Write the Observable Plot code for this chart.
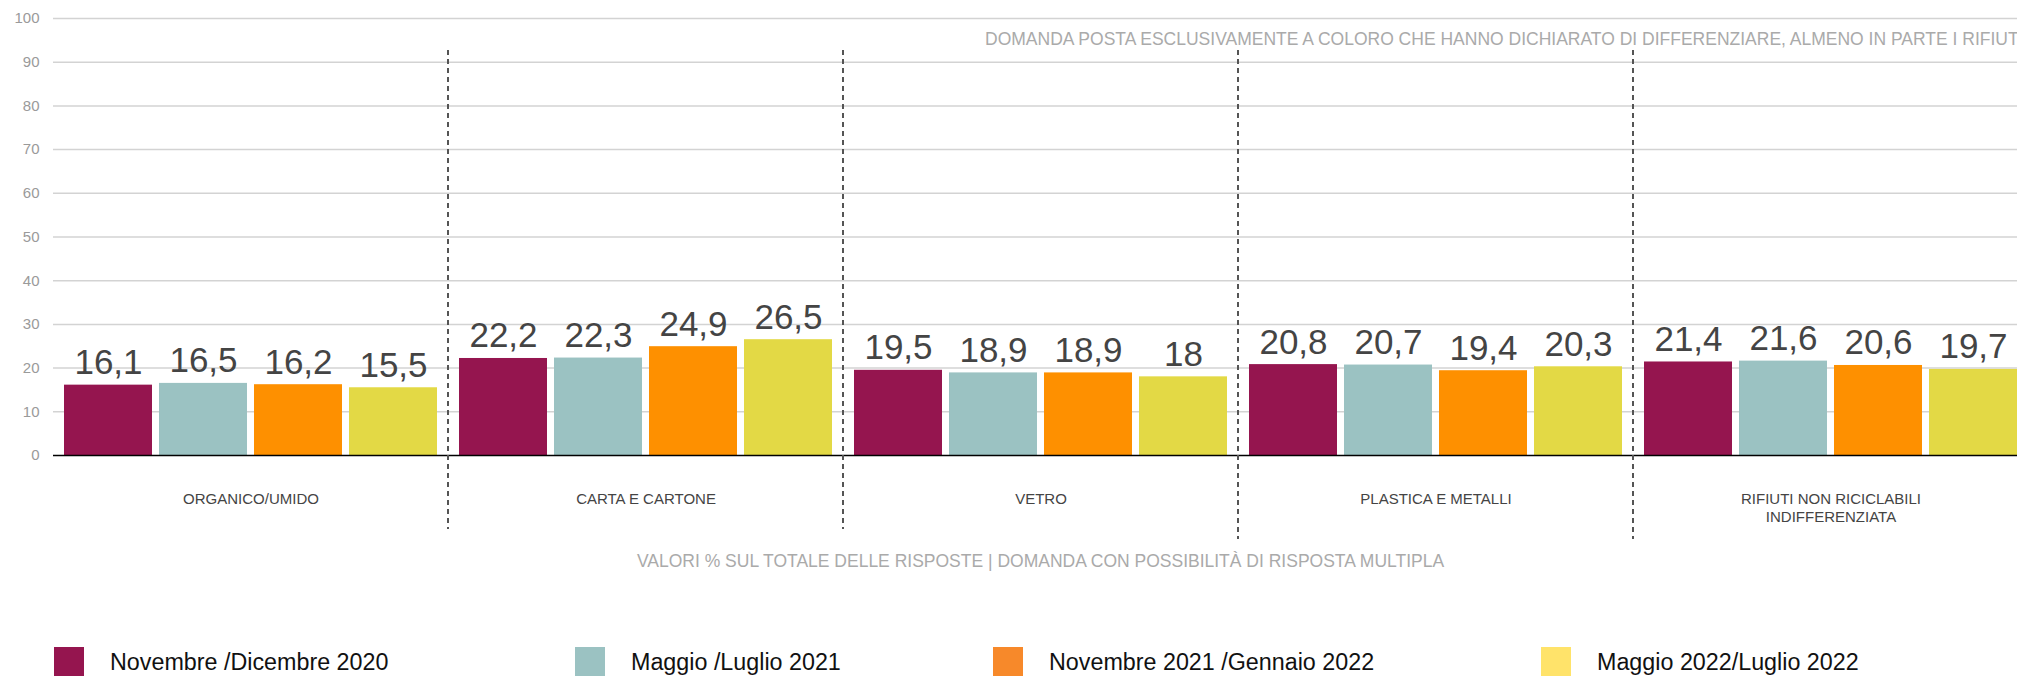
<!DOCTYPE html>
<html>
<head>
<meta charset="utf-8">
<script src="https://cdn.jsdelivr.net/npm/d3@7"></script>
<script src="https://cdn.jsdelivr.net/npm/@observablehq/plot@0.6"></script>
<style>
  html, body { margin: 0; padding: 0; background: #fff; overflow: hidden; }
  body { font-family: "Liberation Sans", Arial, Helvetica, sans-serif; width: 2017px; height: 676px; position: relative; }
  #chart { width: 2028px; }
  #chart svg { display: block; overflow: visible; max-width: none !important; }
  #caption { position: absolute; left: 53px; top: 551px; width: 1975px; text-align: center; font-size: 17.5px; line-height: 20px; color: #aaaaaa; }
  #legend { position: absolute; left: 0; top: 647px; width: 2017px; height: 40px; }
  .item { position: absolute; top: 0; display: flex; align-items: flex-start; }
  .sw { width: 30px; height: 30px; flex: none; }
  .lab { margin-left: 26px; font-size: 23.3px; line-height: 30px; color: #111; white-space: nowrap; }
</style>
</head>
<body>
<div id="chart"></div>
<div id="caption"></div>
<div id="legend"></div>
<script>
// ---- data ----
const categories = ["ORGANICO/UMIDO", "CARTA E CARTONE", "VETRO", "PLASTICA E METALLI", "RIFIUTI NON RICICLABILI\nINDIFFERENZIATA"];
const periods = ["Novembre /Dicembre 2020", "Maggio /Luglio 2021", "Novembre 2021 /Gennaio 2022", "Maggio 2022/Luglio 2022"];
const novDic2020 = [16.1, 22.2, 19.5, 20.8, 21.4];
const magLug2021 = [16.5, 22.3, 18.9, 20.7, 21.6];
const novGen2022 = [16.2, 24.9, 18.9, 19.4, 20.6];
const magLug2022 = [15.5, 26.5, 18, 20.3, 19.7];
const yTicks = [0, 10, 20, 30, 40, 50, 60, 70, 80, 90, 100];
const noteText = "DOMANDA POSTA ESCLUSIVAMENTE A COLORO CHE HANNO DICHIARATO DI DIFFERENZIARE, ALMENO IN PARTE I RIFIUTI";
const captionText = "VALORI % SUL TOTALE DELLE RISPOSTE | DOMANDA CON POSSIBILITÀ DI RISPOSTA MULTIPLA";

// ---- styles ----
const barColors = ["#95154f", "#9bc2c2", "#fe9000", "#e3d945"];
const legendColors = ["#95154f", "#9bc2c2", "#f7892a", "#ffe36a"];
const legendLefts = [54, 575, 993, 1541];

const series = [novDic2020, magLug2021, novGen2022, magLug2022];
const rows = [];
categories.forEach((c, i) => periods.forEach((p, j) => rows.push({category: c, period: p, value: series[j][i]})));

const fmt = d => String(d).replace(".", ",");

const plot = Plot.plot({
  width: 2028,
  height: 545,
  marginLeft: 53,
  marginRight: 0,
  marginTop: 18,
  marginBottom: 90,
  style: {fontFamily: "'Liberation Sans', Arial, Helvetica, sans-serif", fontSize: "15px", color: "#9a9a9a", background: "transparent", overflow: "visible"},
  fx: {domain: categories, padding: 0, axis: null, label: null},
  x: {domain: periods, paddingInner: 0.073, paddingOuter: 0.094, axis: null},
  y: {domain: [0, 100], ticks: yTicks, tickSize: 0, tickPadding: 14, tickFormat: d => String(d), label: null},
  color: {domain: periods, range: barColors},
  marks: [
    Plot.ruleY(yTicks.slice(1), {stroke: "#d3d3d3", strokeWidth: 1.5}),
    Plot.barY(rows, {fx: "category", x: "period", y: "value", fill: "period"}),
    Plot.ruleY([0], {stroke: "#000", strokeWidth: 1.5}),
    Plot.text(rows, {fx: "category", x: "period", y: "value", text: d => fmt(d.value), lineAnchor: "bottom", dy: -11, fontSize: 35, fill: "#444"}),
    Plot.text(categories, {fx: d => d, text: d => d, frameAnchor: "bottom", lineAnchor: "top", dy: 36, fontSize: 15, lineHeight: 1.2, fill: "#444"})
  ]
});
document.getElementById("chart").appendChild(plot);

// dividers between groups, placed through the fx scale
const fxs = plot.scale("fx");
const band = fxs.apply ? (v => fxs.apply(v)) :
  d3.scaleBand(fxs.domain, fxs.range).paddingInner(fxs.paddingInner || 0).paddingOuter(fxs.paddingOuter || 0).align(fxs.align ?? 0.5);
const svg = d3.select(plot.tagName.toLowerCase() === "svg" ? plot : plot.querySelector("svg"));
const divBottoms = [529, 529, 539, 539];
categories.slice(1).forEach((c, i) => {
  const x = band(c);
  svg.append("line")
    .attr("x1", x).attr("x2", x)
    .attr("y1", 50).attr("y2", divBottoms[i])
    .attr("stroke", "#555").attr("stroke-width", 2)
    .attr("stroke-dasharray", "5 4");
});
// note inside plot area
svg.append("text")
  .attr("x", 985).attr("y", 39).attr("dy", "0.35em")
  .attr("text-anchor", "start")
  .attr("fill", "#aaaaaa").attr("font-size", 17.5)
  .text(noteText);

document.getElementById("caption").textContent = captionText;

const legend = document.getElementById("legend");
periods.forEach((p, i) => {
  const it = document.createElement("div");
  it.className = "item";
  it.style.left = legendLefts[i] + "px";
  const sw = document.createElement("div");
  sw.className = "sw";
  sw.style.background = legendColors[i];
  const lab = document.createElement("div");
  lab.className = "lab";
  lab.textContent = p;
  it.appendChild(sw); it.appendChild(lab);
  legend.appendChild(it);
});
</script>
</body>
</html>
